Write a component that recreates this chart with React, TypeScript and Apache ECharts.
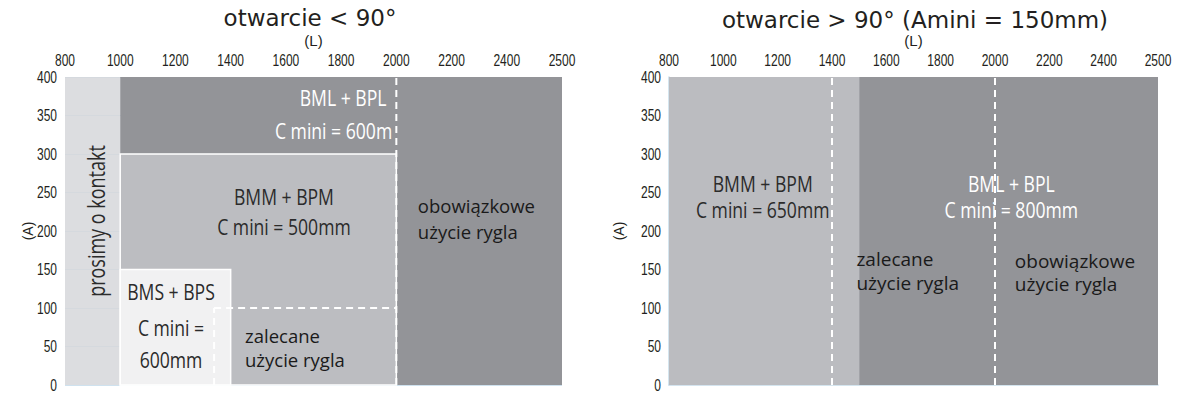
import React, { useEffect, useRef } from 'react';
import * as echarts from 'echarts';

// Width axis (L) tick labels, evenly spaced on the drawing
const L_TICKS = [800, 1000, 1200, 1400, 1600, 1800, 2000, 2200, 2400, 2500];
// Height axis (A) tick labels
const A_TICKS = [0, 50, 100, 150, 200, 250, 300, 350, 400];

// Regions: [L from, L to, A from, A to]
const LEFT_CONTACT = [[800, 1000, 0, 400]];
const LEFT_BML = [[1000, 2500, 0, 400]];
const LEFT_BMM = [[1000, 2000, 0, 300]];
const LEFT_BMS = [[1000, 1400, 0, 150]];
const RIGHT_BMM = [[800, 1500, 0, 400]];
const RIGHT_BML = [[1500, 2500, 0, 400]];

// Dashed limits: [L1, A1, L2, A2]
const LEFT_DASHED = [
  [2000, 0, 2000, 400],
  [1340, 100, 2000, 100],
  [1340, 0, 1340, 100],
];
const RIGHT_DASHED = [
  [1400, 0, 1400, 400],
  [2000, 0, 2000, 400],
];

const TITLES = ['otwarcie < 90°', 'otwarcie > 90° (Amini = 150mm)'];

const COND = "'Open Sans', 'Noto Sans', sans-serif";
const HUMAN = "'Open Sans', 'Noto Sans', sans-serif";
const TICKF = "'Liberation Sans', Arial, sans-serif";

type Ann = { t: string; L: number; A: number; align: string; color: string; font: string; size: number; sx?: number; rot?: number };

const C_SIZE = 22;
const C_SX = 0.8;

const LEFT_TEXT: Ann[] = [
  { t: 'prosimy o kontakt', L: 909, A: 213, align: 'center', color: '#2b2b2b', font: COND, size: 24, sx: 0.75, rot: Math.PI / 2 },
  { t: 'BML + BPL', L: 1964, A: 373, align: 'right', color: '#fff', font: COND, size: C_SIZE, sx: C_SX },
  { t: 'C mini = 600m', L: 1985, A: 330, align: 'right', color: '#fff', font: COND, size: C_SIZE, sx: C_SX },
  { t: 'BMM + BPM', L: 1593, A: 244, align: 'center', color: '#2b2b2b', font: COND, size: C_SIZE, sx: C_SX },
  { t: 'C mini = 500mm', L: 1593, A: 205, align: 'center', color: '#2b2b2b', font: COND, size: C_SIZE, sx: C_SX },
  { t: 'obowiązkowe', L: 2078, A: 233, align: 'left', color: '#1a1a1a', font: HUMAN, size: 18.5 },
  { t: 'użycie rygla', L: 2078, A: 200, align: 'left', color: '#1a1a1a', font: HUMAN, size: 18.5 },
  { t: 'BMS + BPS', L: 1184, A: 121, align: 'center', color: '#2b2b2b', font: COND, size: C_SIZE, sx: C_SX },
  { t: 'C mini =', L: 1184, A: 74, align: 'center', color: '#2b2b2b', font: COND, size: C_SIZE, sx: C_SX },
  { t: '600mm', L: 1184, A: 32.5, align: 'center', color: '#2b2b2b', font: COND, size: C_SIZE, sx: C_SX },
  { t: 'zalecane', L: 1452, A: 64, align: 'left', color: '#1a1a1a', font: HUMAN, size: 18.5 },
  { t: 'użycie rygla', L: 1452, A: 32.5, align: 'left', color: '#1a1a1a', font: HUMAN, size: 18.5 },
];

const RIGHT_TEXT: Ann[] = [
  { t: 'BMM + BPM', L: 1145, A: 262, align: 'center', color: '#2b2b2b', font: COND, size: C_SIZE, sx: C_SX },
  { t: 'C mini = 650mm', L: 1145, A: 227, align: 'center', color: '#2b2b2b', font: COND, size: C_SIZE, sx: C_SX },
  { t: 'BML + BPL', L: 2060, A: 262, align: 'center', color: '#fff', font: COND, size: C_SIZE, sx: C_SX },
  { t: 'C mini = 800mm', L: 2060, A: 227, align: 'center', color: '#fff', font: COND, size: C_SIZE, sx: C_SX },
  { t: 'zalecane', L: 1490, A: 163, align: 'left', color: '#1a1a1a', font: HUMAN, size: 19 },
  { t: 'użycie rygla', L: 1490, A: 132.5, align: 'left', color: '#1a1a1a', font: HUMAN, size: 19 },
  { t: 'obowiązkowe', L: 2073, A: 161.5, align: 'left', color: '#1a1a1a', font: HUMAN, size: 19 },
  { t: 'użycie rygla', L: 2073, A: 131, align: 'left', color: '#1a1a1a', font: HUMAN, size: 19 },
];

function toPos(L: number): number {
  for (let i = 0; i < L_TICKS.length - 1; i++) {
    if (L <= L_TICKS[i + 1]) return i + (L - L_TICKS[i]) / (L_TICKS[i + 1] - L_TICKS[i]);
  }
  return L_TICKS.length - 1;
}

function rectSeries(idx: number, data: number[][], fill: string, stroke?: string) {
  return {
    type: 'custom',
    xAxisIndex: idx,
    yAxisIndex: idx,
    silent: true,
    data: data.map(([l0, l1, a0, a1]) => [toPos(l0), toPos(l1), a0, a1]),
    encode: { x: [0, 1], y: [2, 3] },
    renderItem: (_p: any, api: any) => {
      const tl = api.coord([api.value(0), api.value(3)]);
      const br = api.coord([api.value(1), api.value(2)]);
      return {
        type: 'rect',
        shape: { x: tl[0], y: tl[1], width: br[0] - tl[0], height: br[1] - tl[1] },
        style: { fill, stroke: stroke || 'none', lineWidth: stroke ? 1.5 : 0 },
      };
    },
  };
}

function dashSeries(idx: number, data: number[][]) {
  return {
    type: 'custom',
    xAxisIndex: idx,
    yAxisIndex: idx,
    silent: true,
    z: 5,
    data: data.map(([l1, a1, l2, a2]) => [toPos(l1), a1, toPos(l2), a2]),
    encode: { x: [0, 2], y: [1, 3] },
    renderItem: (_p: any, api: any) => {
      const p1 = api.coord([api.value(0), api.value(1)]);
      const p2 = api.coord([api.value(2), api.value(3)]);
      return {
        type: 'line',
        shape: { x1: p1[0], y1: p1[1], x2: p2[0], y2: p2[1] },
        style: { stroke: '#ffffff', lineWidth: 2, lineDash: [7, 5] },
      };
    },
  };
}

function textSeries(idx: number, anns: Ann[]) {
  return {
    type: 'custom',
    xAxisIndex: idx,
    yAxisIndex: idx,
    silent: true,
    z: 4,
    data: anns.map((a) => [toPos(a.L), a.A]),
    renderItem: (p: any, api: any) => {
      const a = anns[p.dataIndex];
      const c = api.coord([api.value(0), api.value(1)]);
      return {
        type: 'text',
        x: c[0],
        y: c[1],
        rotation: a.rot || 0,
        scaleX: a.sx || 1,
        style: {
          text: a.t,
          fill: a.color,
          fontFamily: a.font,
          fontSize: a.size,
          align: a.align,
          verticalAlign: 'middle',
        },
      };
    },
  };
}

// Tick labels of the L axis (drawn above the plot) and the A axis (left of the plot)
function xTickSeries(idx: number) {
  return {
    type: 'custom',
    xAxisIndex: idx,
    yAxisIndex: idx,
    silent: true,
    z: 4,
    data: L_TICKS.map((L) => [toPos(L), A_TICKS[A_TICKS.length - 1]]),
    renderItem: (p: any, api: any) => {
      const c = api.coord([api.value(0), api.value(1)]);
      return {
        type: 'text',
        x: c[0],
        y: c[1] - 17,
        scaleX: 0.75,
        style: { text: String(L_TICKS[p.dataIndex]), fill: '#231f20', fontFamily: TICKF, fontSize: 16, align: 'center', verticalAlign: 'middle' },
      };
    },
  };
}

function yTickSeries(idx: number) {
  return {
    type: 'custom',
    xAxisIndex: idx,
    yAxisIndex: idx,
    silent: true,
    z: 4,
    data: A_TICKS.map((A) => [0, A]),
    renderItem: (p: any, api: any) => {
      const c = api.coord([api.value(0), api.value(1)]);
      return {
        type: 'text',
        x: c[0] - 8,
        y: c[1],
        scaleX: 0.75,
        style: { text: String(A_TICKS[p.dataIndex]), fill: '#231f20', fontFamily: TICKF, fontSize: 16, align: 'right', verticalAlign: 'middle' },
      };
    },
  };
}

export default function App() {
  const ref = useRef<HTMLDivElement>(null);
  useEffect(() => {
    document.body.style.margin = '0';
    const chart = echarts.init(ref.current!, null, { renderer: 'svg' });
    const grids = [
      { left: 65, width: 497, top: 77, height: 308 },
      { left: 669, width: 489, top: 77, height: 308 },
    ];
    const xAxis: any[] = [0, 1].map((i) => ({
      type: 'value',
      gridIndex: i,
      position: 'top',
      min: 0,
      max: L_TICKS.length - 1,
      interval: 1,
      name: '(L)',
      nameLocation: 'middle',
      nameGap: 29,
      nameTextStyle: { color: '#231f20', fontFamily: TICKF, fontSize: 15 },
      axisLine: { show: false },
      axisTick: { show: false },
      splitLine: { show: false },
      axisLabel: { show: false },
    }));
    xAxis.push({
      type: 'value',
      gridIndex: 1,
      position: 'bottom',
      min: 0,
      max: L_TICKS.length - 1,
      axisLine: { show: true, lineStyle: { color: '#c6dcea', width: 1.5 } },
      axisTick: { show: false },
      axisLabel: { show: false },
      splitLine: { show: false },
    });
    const yAxis = [0, 1].map((i) => ({
      type: 'value',
      gridIndex: i,
      min: A_TICKS[0],
      max: A_TICKS[A_TICKS.length - 1],
      interval: A_TICKS[1] - A_TICKS[0],
      name: '(A)',
      nameLocation: 'middle',
      nameGap: i === 0 ? 30 : 43,
      nameTextStyle: { color: '#231f20', fontFamily: TICKF, fontSize: 14 },
      axisLine: { show: i === 1, lineStyle: { color: '#c6dcea', width: 1.5 } },
      axisTick: { show: false },
      splitLine: { show: i === 0, lineStyle: { color: '#cfe2ef', width: 1 } },
      axisLabel: { show: false },
    }));
    const titleStyle = { fill: '#231f20', fontFamily: "'DejaVu Sans', Verdana, sans-serif", fontSize: 23, align: 'center', verticalAlign: 'middle' };
    chart.setOption({
      animation: false,
      grid: grids,
      xAxis,
      yAxis,
      graphic: [
        { type: 'text', x: 310, y: 18, style: { ...titleStyle, text: TITLES[0] } },
        { type: 'text', x: 915, y: 20, style: { ...titleStyle, text: TITLES[1] } },
      ],
      series: [
        rectSeries(0, LEFT_CONTACT, 'rgba(214,215,218,0.85)'),
        rectSeries(0, LEFT_BML, '#939498'),
        rectSeries(0, LEFT_BMM, '#bcbdc1', '#ffffff'),
        rectSeries(0, LEFT_BMS, '#f1f1f2', '#ffffff'),
        textSeries(0, LEFT_TEXT),
        dashSeries(0, LEFT_DASHED),
        xTickSeries(0),
        yTickSeries(0),
        rectSeries(1, RIGHT_BMM, '#bbbcc0'),
        rectSeries(1, RIGHT_BML, '#939498'),
        textSeries(1, RIGHT_TEXT),
        dashSeries(1, RIGHT_DASHED),
        xTickSeries(1),
        yTickSeries(1),
      ],
    });
    return () => chart.dispose();
  }, []);
  return <div ref={ref} style={{ width: 1177, height: 395 }} />;
}
